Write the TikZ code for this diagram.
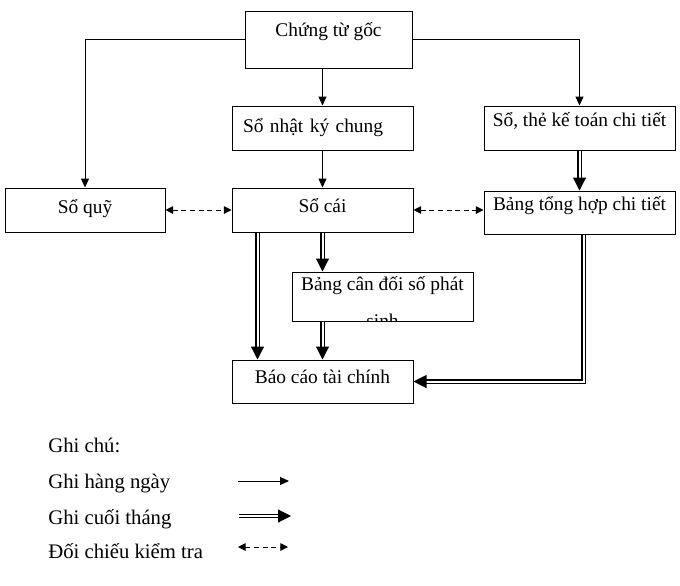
\documentclass[tikz,border=0pt]{standalone}
\usepackage{fontspec}
\setmainfont{Liberation Serif}
\usepackage{tikz}
\usetikzlibrary{
  positioning,
  calc,
  arrows.meta
}

\tikzset{
  box/.style={draw,line width=0.5pt,inner sep=0pt,text height=7pt,text depth=5pt,
    font=\fontsize{9.7}{11.6}\selectfont},
  daily/.style={line width=0.5pt,-{Triangle[length=4.5pt,width=4pt]}},
  monthly/.style={double,line width=0.55pt,double distance=1pt,
    -{Triangle[length=6.5pt,width=6.5pt]}},
  check/.style={line width=0.5pt,dash pattern=on 2.5pt off 1.8pt,
    {Triangle[length=3.8pt,width=3.8pt]}-{Triangle[length=3.8pt,width=3.8pt]}},
  note/.style={anchor=base west,inner sep=0pt,font=\fontsize{10.35}{12}\selectfont}
}

\begin{document}
\begin{tikzpicture}[x=0.5pt,y=-0.5pt]
  \useasboundingbox (0,0) rectangle (680,585);
  % 帳簿
  \node[box,minimum width=83.5pt,minimum height=28.5pt,text depth=10.5pt] (ctg) at (328.5,39.5) {Chứng từ gốc};
  \node[box,minimum width=90.5pt,minimum height=22pt,text depth=3pt,
    text width=79.5pt,inner xsep=5.5pt,align=left] (snkc) at (322.5,128) {Sổ nhật ký chung};
  \node[box,minimum width=95.5pt,minimum height=22pt,text depth=9pt] (sct) at (579.5,128) {Sổ, thẻ kế toán chi tiết};
  \node[box,minimum width=80pt,minimum height=22pt,text depth=4pt] (quy) at (85,210) {Sổ quỹ};
  \node[box,minimum width=90.5pt,minimum height=22pt] (socai) at (322.5,210) {Sổ cái};
  \node[box,minimum width=95.5pt,minimum height=21.5pt,text depth=9.5pt] (bth) at (579.5,212.5) {Bảng tổng hợp chi tiết};
  \node[box,minimum width=90.5pt,minimum height=24.5pt] (bcd) at (382.5,296.5) {};
  \begin{scope}
    \clip (bcd.south west) rectangle (bcd.north east);
    \node[anchor=base,inner sep=0pt,align=center,
      font=\fontsize{9.7}{18.5}\selectfont] (bcdtext) at (382.5,327) {Bảng cân đối số phát\\sinh};
  \end{scope}
  \node[box,minimum width=90.5pt,minimum height=21.5pt,text depth=5.5pt] (bctc) at (322.5,381.5) {Báo cáo tài chính};
  % 毎日
  \draw[daily] (ctg.west) -| (quy.north);
  \draw[daily] (ctg.east) -| (sct.north);
  \draw[daily] (snkc.north |- ctg.south) -- (snkc.north);
  \draw[daily] (snkc.south) -- (socai.north);
  % 月末
  \draw[monthly] (sct.south) -- (bth.north);
  \draw[monthly] (socai.south) -- (socai.south |- bcd.north);
  \draw[monthly] ([xshift=13pt]socai.south west) -- ([xshift=13pt]socai.south west |- bctc.north);
  \draw[monthly] (bctc.north |- bcd.south) -- (bctc.north);
  \draw[monthly] ([xshift=2pt]bth.south) |- (bctc.east);
  % 照合
  \draw[check] (quy.east) -- (socai.west);
  \draw[check] (socai.east) -- (socai.east -| bth.west);
  % 凡例
  \node[note] (n0) at (48,452) {Ghi chú:};
  \node[note] (n1) at (48,488) {Ghi hàng ngày};
  \node[note] (n2) at (48,524) {Ghi cuối tháng};
  \node[note] (n3) at (48,558) {Đối chiếu kiểm tra};
  \coordinate (d1) at (238,481); \coordinate (d2) at (289,481);
  \coordinate (m1) at (239,516); \coordinate (m2) at (291,516);
  \coordinate (c1) at (238,547); \coordinate (c2) at (288,547);
  \draw[daily] (d1) -- (d2);
  \draw[monthly] (m1) -- (m2);
  \draw[check] (c1) -- (c2);
\end{tikzpicture}
\end{document}
